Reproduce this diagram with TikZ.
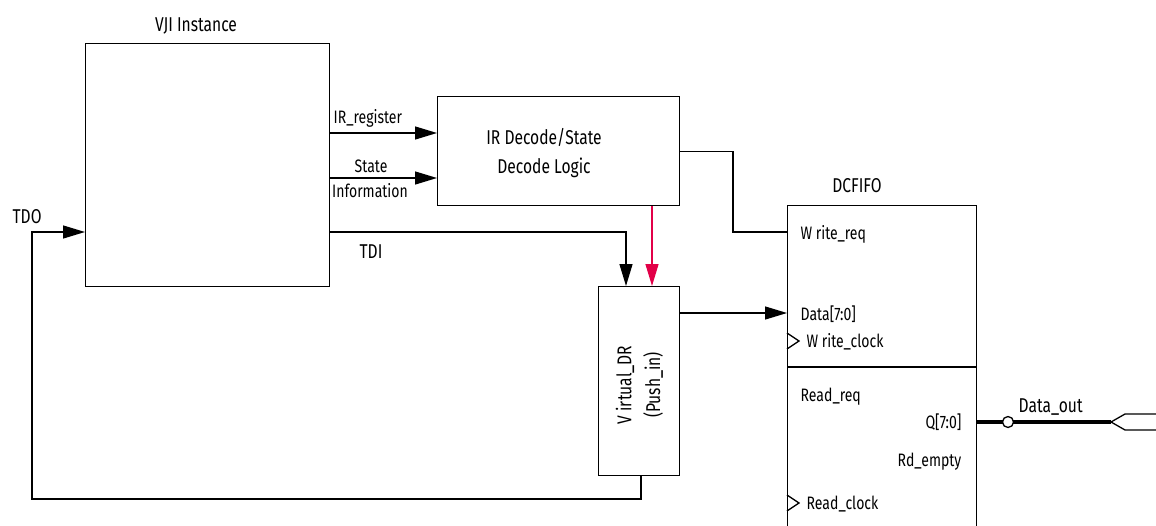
\documentclass[tikz,border=0pt]{standalone}
\usepackage{fontspec}
\setmainfont{Fira Sans}[FakeStretch=0.78]
\usetikzlibrary{arrows.meta}
\definecolor{vred}{RGB}{226,0,72}
\begin{document}
\begin{tikzpicture}[x=1pt,y=-1pt,line width=1.3pt,
  box/.style={draw,line width=1.3pt,inner sep=0pt,anchor=north west},
  arr/.style={-{Triangle[length=22pt,width=13pt]}},
  big/.style={font=\fontsize{20}{24}\selectfont,inner sep=0pt},
  lbl/.style={font=\fontsize{18}{22}\selectfont,inner sep=0pt}]
\clip (0,0) rectangle (1156,525);
% boxes
\node[box,minimum width=244pt,minimum height=243pt] (vji) at (85,43) {};
\node[box,minimum width=242pt,minimum height=109pt] (ir) at (437,96) {};
\node[box,minimum width=81pt,minimum height=189pt] (vdr) at (598,286) {};
\node[box,minimum width=189pt,minimum height=345pt] (fifo) at (787,205) {};
\coordinate (div) at (0,367);
\draw (fifo.west |- div) -- (fifo.east |- div);
% titles
\node[big,anchor=base] (vjil) at (196,31) {VJI Instance};
\node[big,anchor=base] (fifol) at (857,192) {DCFIFO};
\node[big,anchor=base] (irt1) at (544,144) {IR Decode/State};
\node[big,anchor=base] (irt2) at (544,173) {Decode Logic};
\node[big,rotate=90] (vdrt1) at (625,385) {V irtual\_DR};
\node[big,rotate=90] (vdrt2) at (653,385) {(Push\_in)};
\node[big,anchor=base west] (tdo) at (12,223) {TDO};
\node[big,anchor=base] (tdi) at (371,258) {TDI};
\node[lbl,anchor=base west] (irr) at (333,123) {IR\_register};
\node[lbl,anchor=base] (st1) at (371,172) {State};
\node[lbl,anchor=base] (st2) at (370,197) {Information};
% fifo labels
\node[lbl,anchor=base west] (wreq) at (800,239) {W rite\_req};
\node[lbl,anchor=base west] (dat) at (800,320) {Data[7:0]};
\node[lbl,anchor=base west] (wclk) at (806,347) {W rite\_clock};
\node[lbl,anchor=base west] (rreq) at (800,401) {Read\_req};
\node[lbl,anchor=base east] (q) at (962,428) {Q[7:0]};
\node[lbl,anchor=base east] (rde) at (962,466) {Rd\_empty};
\node[lbl,anchor=base west] (rclk) at (806,509) {Read\_clock};
\node[big,anchor=base west] (dout) at (1018,412) {Data\_out};
% clock triangles
\draw (fifo.west |- 0,333) -- (799,341) -- (fifo.west |- 0,349);
\draw (fifo.west |- 0,495) -- (799,503) -- (fifo.west |- 0,511);
% connectors
\coordinate (y1) at (0,133);
\coordinate (y2) at (0,178);
\draw[arr] (vji.east |- y1) -- (ir.west |- y1);
\draw[arr] (vji.east |- y2) -- (ir.west |- y2);
\coordinate (wr) at (733,232);
\draw (ir.east) -| (wr) -- (fifo.west |- wr);
\coordinate (rx) at (652,0);
\draw[arr,vred] (ir.south -| rx) -- (vdr.north -| rx);
\coordinate (tx) at (626,232);
\draw[arr] (vji.east |- tx) -| (vdr.north -| tx);
\coordinate (bx) at (641,0);
\coordinate (lx) at (32,499);
\coordinate (ty) at (0,232);
\draw[arr] (vdr.south -| bx) |- (lx) |- (vji.west |- ty);
\coordinate (dy) at (0,313);
\draw[arr] (vdr.east |- dy) -- (fifo.west |- dy);
% data out
\coordinate (qy) at (0,422);
\coordinate (ptip) at (1111,422);
\coordinate (pu) at (1125,414);
\coordinate (pl) at (1125,430);
\coordinate (pur) at (1160,414);
\coordinate (plr) at (1160,430);
\draw[line width=4.5pt] (fifo.east |- qy) -- (ptip);
\node[circle,draw,fill=white,minimum size=11pt,inner sep=0pt,line width=1.3pt] (bub) at (1008,422) {};
\draw (pur) -- (pu) -- (ptip) -- (pl) -- (plr);
\end{tikzpicture}
\end{document}
